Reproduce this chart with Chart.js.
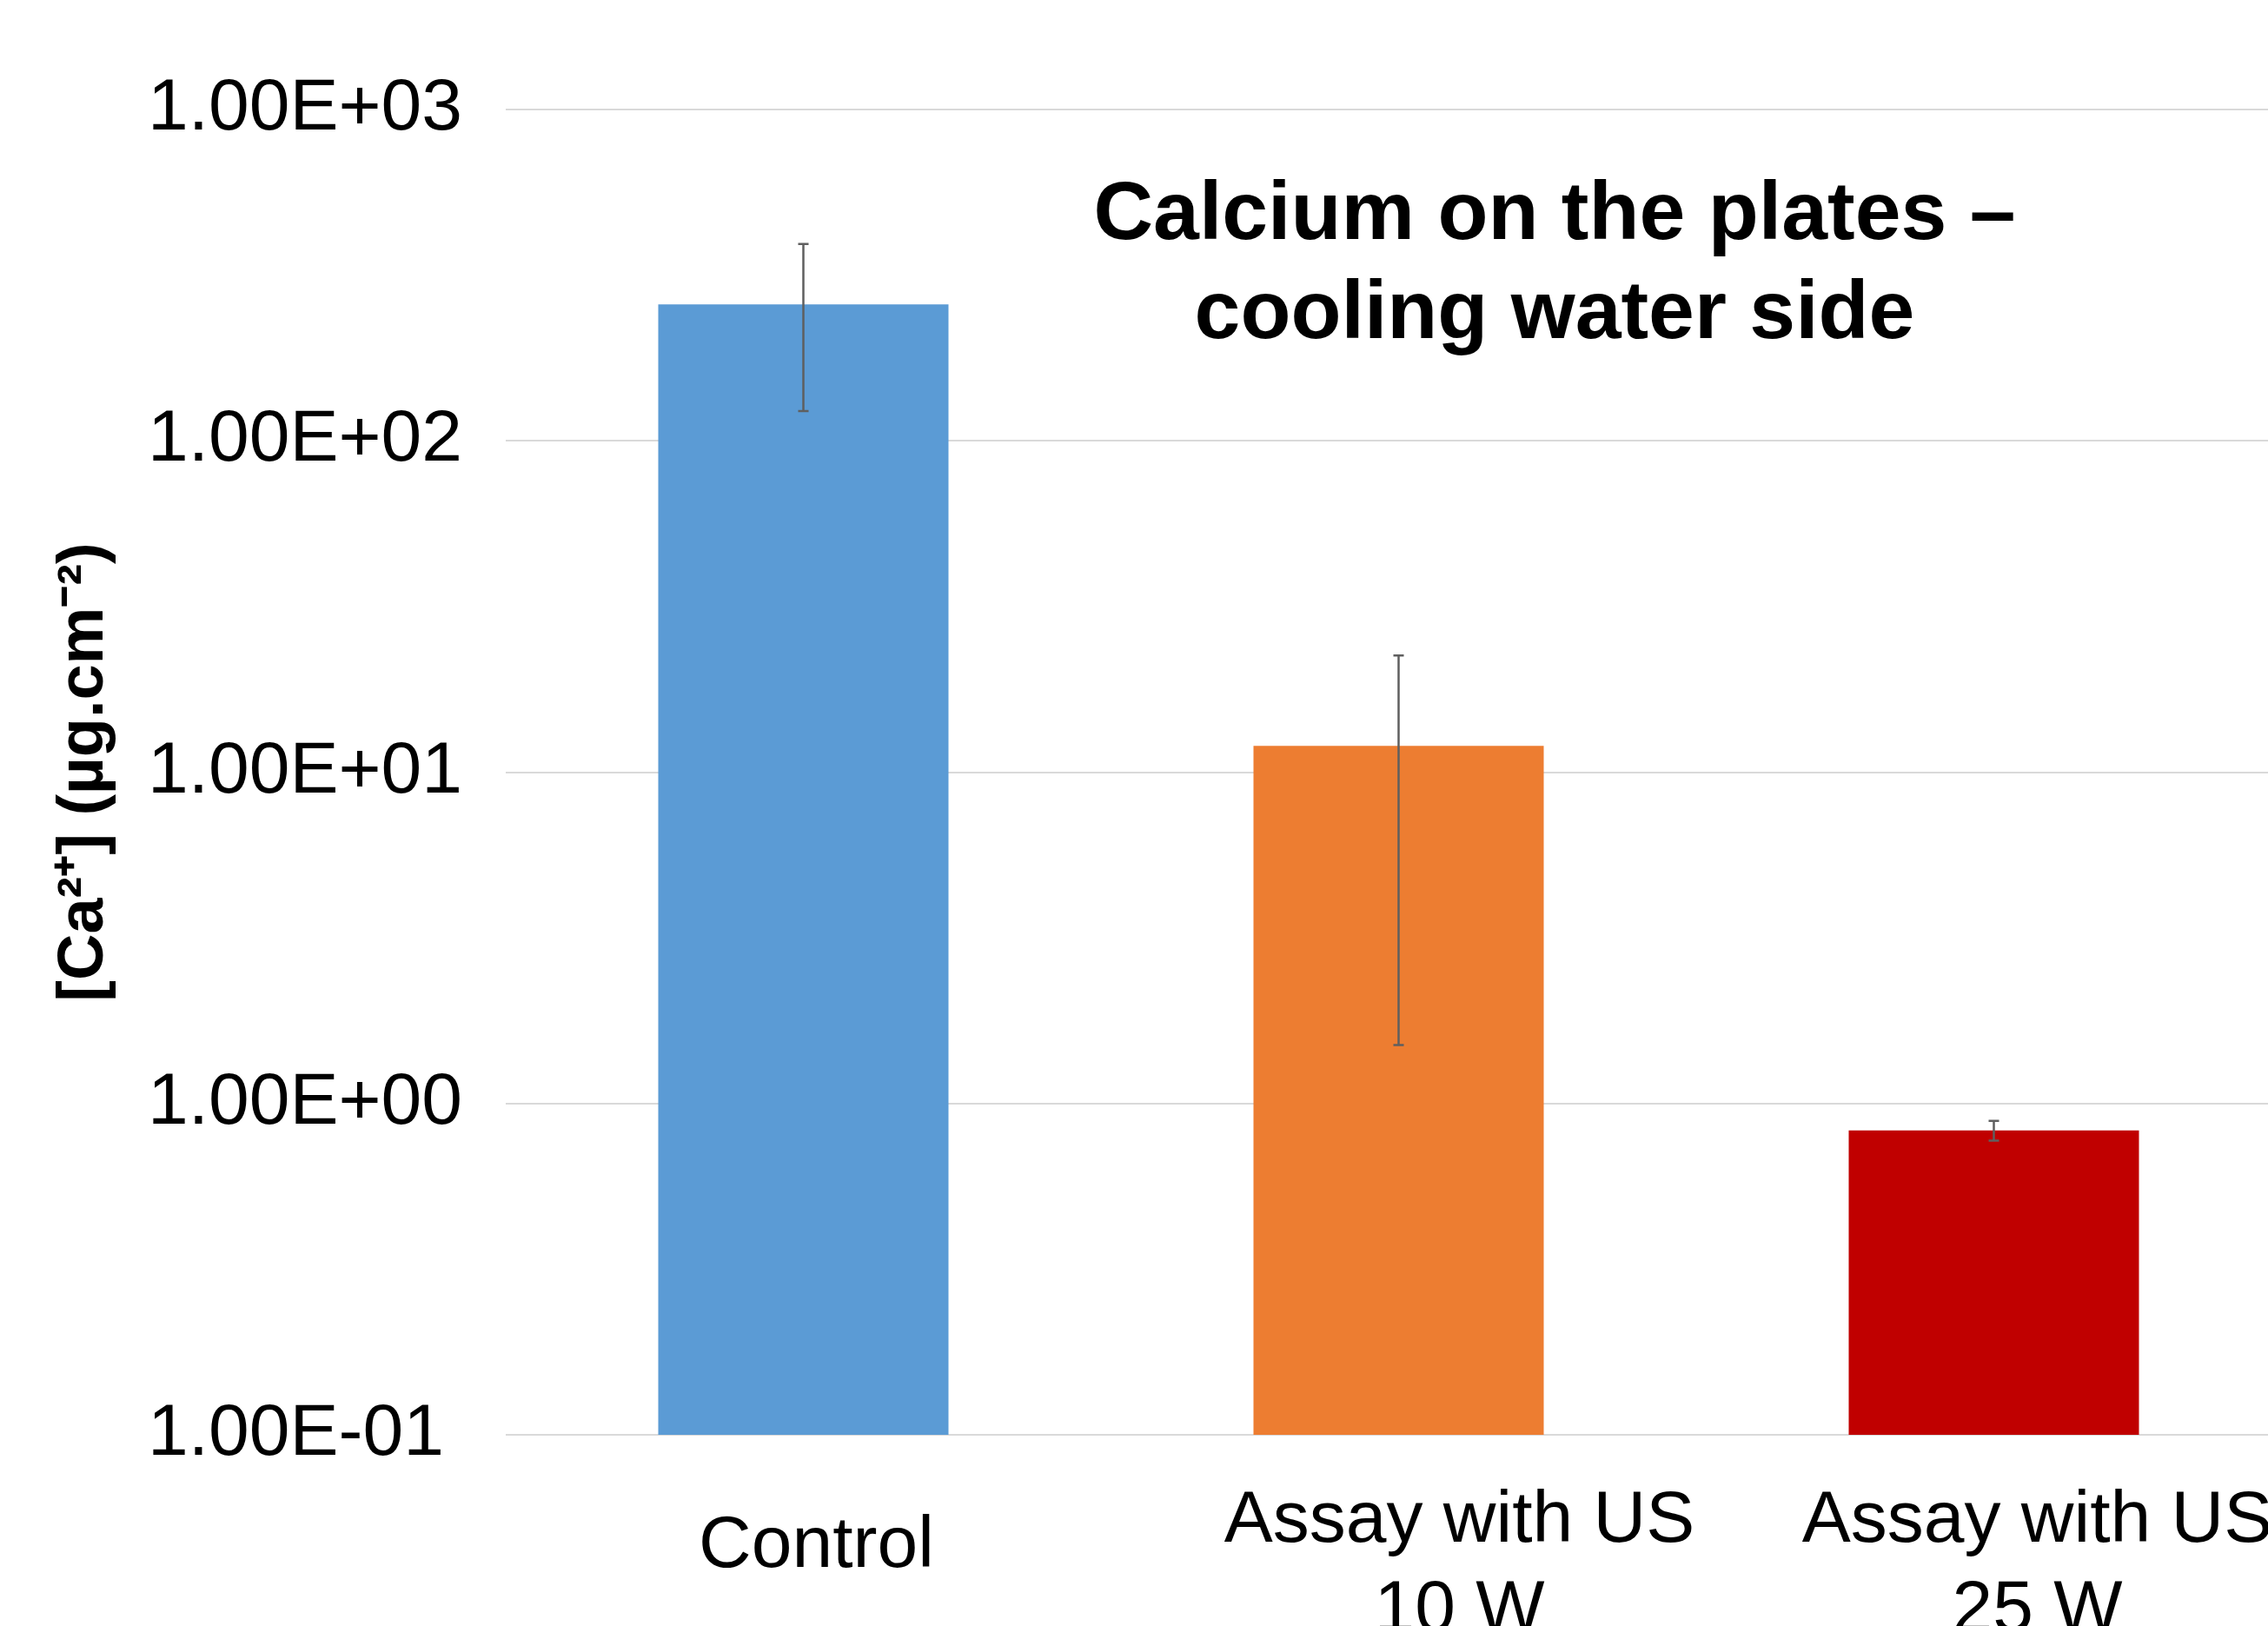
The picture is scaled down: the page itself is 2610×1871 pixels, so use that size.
<!DOCTYPE html>
<html>
<head>
<meta charset="utf-8">
<script src="https://cdn.jsdelivr.net/npm/chart.js@4.4.1/dist/chart.umd.min.js"></script>
<style>
  html, body { margin: 0; padding: 0; background: #ffffff; overflow: hidden; }
  #wrap { width: 2640px; height: 1871px; position: relative; }
</style>
</head>
<body>
<div id="wrap"><canvas id="c"></canvas></div>
<script>
// ---- data ----
const categories = ['Control', ['Assay with US', '10 W'], ['Assay with US', '25 W']];
const values = [258, 12.0, 0.829];
const errors = [135, 10.5, 0.057];
const barColors = ['#5B9BD5', '#ED7D31', '#C00000'];
const yTicks = [0.1, 1, 10, 100, 1000];
const chartTitle = ['Calcium on the plates \u2013', 'cooling water side'];
const yTitle = '[Ca\u00B2\u207A] (\u00B5g.cm\u207B\u00B2)';

const FONT = "'Liberation Sans', Arial, Helvetica, sans-serif";
Chart.defaults.font.family = FONT;
Chart.defaults.color = '#000000';

function sciLabel(v) {
  const s = Number(v).toExponential(2).split('e');
  const e = parseInt(s[1], 10);
  return s[0] + 'E' + (e < 0 ? '-' : '+') + String(Math.abs(e)).padStart(2, '0');
}

const errorBars = {
  id: 'errorBars',
  afterDatasetsDraw(chart) {
    const ctx = chart.ctx;
    const y = chart.scales.y;
    const meta = chart.getDatasetMeta(0);
    ctx.save();
    ctx.strokeStyle = '#5f5f5f';
    ctx.lineWidth = 2.5;
    meta.data.forEach((bar, i) => {
      const x = bar.x;
      const top = y.getPixelForValue(values[i] + errors[i]);
      const bot = y.getPixelForValue(values[i] - errors[i]);
      ctx.beginPath();
      ctx.moveTo(x, top); ctx.lineTo(x, bot);
      ctx.moveTo(x - 6, top); ctx.lineTo(x + 6, top);
      ctx.moveTo(x - 6, bot); ctx.lineTo(x + 6, bot);
      ctx.stroke();
    });
    ctx.restore();
  }
};

const textLayer = {
  id: 'textLayer',
  afterDraw(chart) {
    const ctx = chart.ctx;
    const xs = chart.scales.x;
    ctx.save();
    ctx.fillStyle = '#000000';
    ctx.textAlign = 'center';
    ctx.textBaseline = 'alphabetic';
    // chart title (inside plot area)
    ctx.font = 'bold 95px ' + FONT;
    ctx.fillText(chartTitle[0], 1789, 275);
    ctx.fillText(chartTitle[1], 1789, 389);
    // category labels
    ctx.font = '84px ' + FONT;
    const shift = [15, 70, 50];
    categories.forEach((lab, i) => {
      const cx = xs.getPixelForValue(i) + shift[i];
      if (Array.isArray(lab)) {
        lab.forEach((line, j) => ctx.fillText(line, cx, 1774 + j * 103));
      } else {
        ctx.fillText(lab, cx, 1803);
      }
    });
    ctx.restore();
  }
};

new Chart(document.getElementById('c'), {
  type: 'bar',
  data: {
    labels: categories,
    datasets: [{
      data: values,
      backgroundColor: barColors,
      borderWidth: 0,
      categoryPercentage: 1.0,
      barPercentage: 0.4876
    }]
  },
  options: {
    responsive: true,
    maintainAspectRatio: false,
    devicePixelRatio: 1,
    animation: false,
    layout: { padding: { left: 170, top: 126, right: 3, bottom: 0 } },
    plugins: {
      legend: { display: false },
      title: { display: false },
      tooltip: { enabled: false }
    },
    scales: {
      x: {
        grid: { display: false },
        border: { display: false },
        ticks: { display: false },
        afterFit(s) { s.height = 1871 - 1651; }
      },
      y: {
        type: 'logarithmic',
        min: 0.1,
        max: 1000,
        afterBuildTicks(s) { s.ticks = yTicks.map(v => ({ value: v })); },
        afterFit(s) { s.width = 582 - 170; },
        grid: { color: '#d9d9d9', lineWidth: 2, drawTicks: false },
        border: { display: false },
        ticks: {
          font: { size: 84 },
          color: '#000000',
          crossAlign: 'far',
          padding: 52,
          callback: (v) => sciLabel(v)
        },
        title: {
          display: true,
          text: yTitle,
          font: { size: 74, weight: 'bold' },
          color: '#000000',
          padding: { top: -117, bottom: 0 }
        }
      }
    }
  },
  plugins: [errorBars, textLayer]
});
</script>
</body>
</html>
